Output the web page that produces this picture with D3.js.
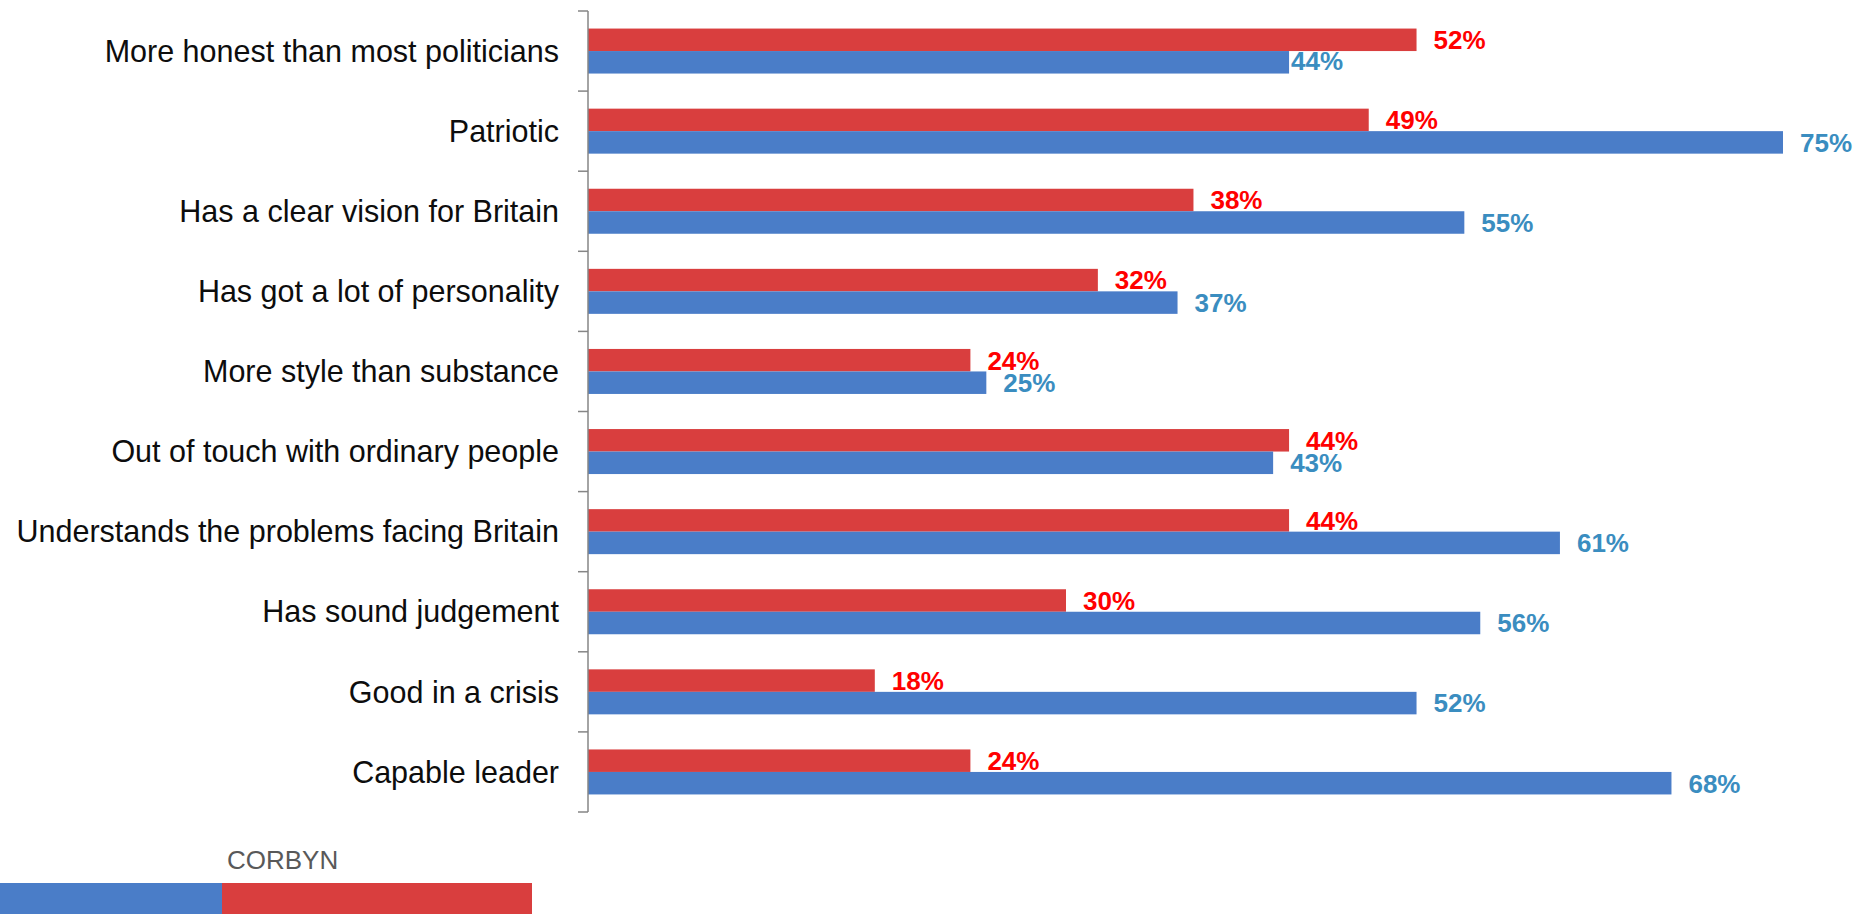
<!DOCTYPE html>
<html>
<head>
<meta charset="utf-8">
<script src="https://cdn.jsdelivr.net/npm/d3@7"></script>
<style>
  html, body { margin: 0; padding: 0; background: #fff; }
  svg { display: block; font-family: "Liberation Sans", Arial, sans-serif; }
</style>
</head>
<body>
<svg id="chart" width="1874" height="914"></svg>
<script>
// ---- data ----
const categories = [
  "More honest than most politicians",
  "Patriotic",
  "Has a clear vision for Britain",
  "Has got a lot of personality",
  "More style than substance",
  "Out of touch with ordinary people",
  "Understands the problems facing Britain",
  "Has sound judgement",
  "Good in a crisis",
  "Capable leader"
];
const seriesNames = ["Corbyn", "Other"];
const corbynValues = [52, 49, 38, 32, 24, 44, 44, 30, 18, 24];
const otherValues  = [44, 75, 55, 37, 25, 43, 61, 56, 52, 68];
const legendLabels = ["CORBYN"];

// ---- styles ----
const colors = { Corbyn: "#D93E3E", Other: "#4A7DC8" };
const labelColors = { Corbyn: "#FF0000", Other: "#3A8DC0" };

const svg = d3.select("#chart");
svg.append("rect").attr("width", 1874).attr("height", 914).attr("fill", "#fff");

const axisX = 588;
const y = d3.scaleBand().domain(categories).range([11, 812]).paddingInner(0).paddingOuter(0);
const ySub = d3.scaleBand().domain(seriesNames).range([0, y.bandwidth()]).paddingInner(0).paddingOuter(0.78);
const x = d3.scaleLinear().domain([0, 75]).range([axisX, 1783]);

const rows = categories.map((c, i) => ({
  cat: c,
  vals: [
    { s: "Corbyn", v: corbynValues[i] },
    { s: "Other", v: otherValues[i] }
  ]
}));

const g = svg.append("g");
const grp = g.selectAll("g.row").data(rows).join("g")
  .attr("class", "row")
  .attr("transform", d => `translate(0,${y(d.cat)})`);

grp.selectAll("rect").data(d => d.vals).join("rect")
  .attr("x", x(0))
  .attr("y", d => ySub(d.s))
  .attr("width", d => x(d.v) - x(0))
  .attr("height", ySub.bandwidth())
  .attr("fill", d => colors[d.s]);

grp.selectAll("text.val").data((d, i) => d.vals.map(v => ({ ...v, row: i }))).join("text")
  .attr("class", "val")
  .attr("x", d => x(d.v) + ((d.row === 0 && d.s === "Other") ? 2 : 17))
  .attr("y", d => ySub(d.s) + ySub.bandwidth() / 2 - ((d.row === 0 && d.s === "Other") ? 2 : 0))
  .attr("dy", "0.36em")
  .attr("font-size", "26px")
  .attr("font-weight", "bold")
  .attr("fill", d => labelColors[d.s])
  .text(d => d.v + "%");

// ---- axis ----
const axis = d3.axisLeft(y).tickSize(0).tickPadding(29);
const ax = svg.append("g").attr("transform", `translate(${axisX},0)`).call(axis);
ax.select(".domain").remove();
ax.selectAll("text")
  .attr("font-size", "30.5px")
  .attr("fill", "#0D0D0D")
  .attr("font-family", "'Liberation Sans', Arial, sans-serif")
  .attr("dy", "0.35em");

// axis line and boundary ticks
const bounds = categories.map(c => y(c)).concat([y.range()[1]]);
svg.append("line")
  .attr("x1", axisX).attr("x2", axisX)
  .attr("y1", y.range()[0]).attr("y2", y.range()[1])
  .attr("stroke", "#868686").attr("stroke-width", 1.5);
svg.selectAll("line.tick").data(bounds).join("line")
  .attr("class", "tick")
  .attr("x1", axisX - 10).attr("x2", axisX)
  .attr("y1", d => d).attr("y2", d => d)
  .attr("stroke", "#868686").attr("stroke-width", 1.5);

// ---- legend (cut off at bottom) ----
const lg = svg.append("g");
lg.append("rect").attr("x", 0).attr("y", 883).attr("width", 222).attr("height", 31).attr("fill", colors.Other);
lg.append("rect").attr("x", 222).attr("y", 883).attr("width", 310).attr("height", 31).attr("fill", colors.Corbyn);
lg.append("text")
  .attr("x", 227).attr("y", 869)
  .attr("font-size", "26px")
  .attr("fill", "#595959")
  .text(legendLabels[0]);
</script>
</body>
</html>
